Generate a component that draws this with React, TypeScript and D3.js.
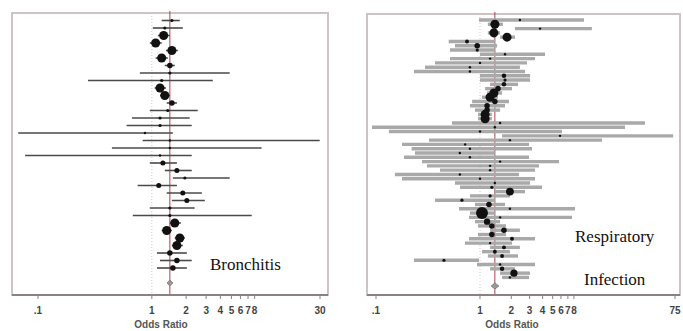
import React from 'react';
import * as d3 from 'd3';

// Bronchitis panel: odds ratio, lower CI, upper CI, relative weight
const bronEst = [1.50, 1.30, 1.27, 1.08, 1.50, 1.22, 1.44, 1.44, 1.22, 1.18, 1.30, 1.50, 1.38, 1.18, 1.18, 0.87, 1.44,
  1.44, 1.18, 1.25, 1.66, 1.95, 1.15, 1.87, 2.03, 1.44, 1.44, 1.59, 1.35, 1.76, 1.66, 1.44, 1.66, 1.53];
const bronLo = [1.22, 1.02, 1.13, 0.96, 1.33, 1.08, 1.30, 0.785, 0.275, 1.06, 1.18, 1.35, 0.96, 0.67, 0.60, 0.067, 0.83,
  0.446, 0.077, 0.96, 1.30, 1.53, 0.75, 1.35, 1.50, 0.96, 0.68, 1.44, 1.22, 1.59, 1.50, 1.11, 1.18, 1.11];
const bronHi = [1.76, 1.87, 1.44, 1.22, 1.69, 1.38, 1.59, 4.83, 3.43, 1.33, 1.44, 1.66, 2.53, 2.15, 2.24, 1.53, 29.8,
  9.2, 2.24, 1.66, 2.24, 4.83, 1.66, 2.75, 2.92, 2.38, 7.54, 1.80, 1.50, 1.95, 1.87, 2.03, 2.24, 2.03];
const bronWt = [1, 1, 8, 8, 8, 8, 3, 1, 1, 8, 8, 3, 1, 1, 1, 0.5, 0.5, 0.5, 0.5, 2.5, 2.5, 1, 2.5, 2.5, 2.5, 1, 1,
  8, 8, 8, 8, 3, 3, 3];
const bronPooled = [1.44, 1.36, 1.53];

// Respiratory infection panel
const respEst = [2.42, 1.39, 3.78, 1.36, 1.82, 0.75, 0.94, 0.94, 1.74, 1.25, 1.0, 0.80, 0.80, 1.70, 1.74, 1.70, 1.49,
  1.36, 1.25, 1.39, 1.17, 1.17, 1.12, 1.12, 1.56, 1.39, 1.0, 5.88, 1.94, 0.72, 0.80, 0.64, 0.80, 1.56, 1.25, 1.25,
  0.64, 1.0, 1.39, 1.30, 1.94, 1.25, 0.67, 1.22, 1.94, 1.045, 1.56, 1.17, 1.30, 1.70, 1.30, 2.03, 1.25, 1.70, 1.39,
  1.63, 0.45, 1.56, 1.63, 2.12, 1.94];
const respLo = [0.978, 1.19, 2.17, 1.19, 1.56, 0.50, 0.575, 0.515, 1.0, 0.515, 0.369, 0.296, 0.232, 1.0, 1.0, 1.25,
  1.12, 1.17, 1.045, 0.84, 0.80, 0.895, 0.957, 0.957, 0.538, 0.0915, 0.133, 1.63, 0.323, 0.178, 0.22, 0.237, 0.186,
  0.277, 0.309, 0.412, 0.152, 0.178, 0.575, 0.642, 1.39, 0.80, 0.369, 0.895, 0.628, 0.80, 0.784, 0.895, 0.957, 1.25,
  0.957, 0.784, 0.717, 1.25, 1.045, 1.19, 0.232, 0.936, 1.25, 1.56, 1.63];
const respHi = [10.0, 1.66, 11.9, 1.56, 2.17, 1.39, 1.46, 1.39, 4.22, 3.38, 2.83, 2.42, 2.71, 3.03, 3.03, 2.32, 2.03,
  1.63, 1.49, 1.90, 1.74, 1.56, 1.30, 1.30, 38.6, 24.8, 6.14, 72, 14.9, 2.96, 3.16, 1.39, 2.96, 5.75, 3.69, 3.38, 2.37,
  3.38, 3.03, 3.95, 2.71, 1.94, 1.39, 1.74, 8.19, 1.39, 7.67, 1.56, 1.78, 2.42, 1.78, 3.38, 2.03, 2.42, 1.94, 2.32,
  0.978, 3.38, 2.17, 3.03, 2.96];
const respWt = [0.5, 8, 0.5, 8, 8, 1.5, 3, 1, 0.5, 0.5, 0.5, 0.5, 0.5, 2, 1, 2, 3, 8, 8, 3, 3, 3, 8, 8, 0.5, 0.5, 0.5,
  0.5, 0.5, 0.5, 0.5, 0.5, 0.5, 0.5, 0.5, 0.5, 0.5, 0.5, 0.5, 1, 6, 1, 1, 3, 0.5, 14, 0.5, 4, 3, 3, 3, 1.5, 0.5, 1.5,
  1.5, 1.5, 1, 0.5, 2, 5, 0.5];
const respPooled = [1.39, 1.28, 1.52];

const bronTicks = [0.1, 1, 2, 3, 4, 5, 6, 7, 8, 30];
const respTicks = [0.1, 1, 2, 3, 4, 5, 6, 7, 8, 75];
const tickText = (v: number) => (v === 0.1 ? '.1' : String(v));

type PanelProps = {
  est: number[]; lo: number[]; hi: number[]; wt: number[]; pooled: number[];
  ticks: number[];
  frame: { x: number; y: number; w: number; h: number };
  xr: [number, number];
  yr: [number, number];
  ciColor: string; ciWidth: number;
  labelX: number;
  labels: { text: string; x: number; y: number }[];
};

function Panel(p: PanelProps) {
  const { frame } = p;
  const x = d3.scaleLog().domain([p.ticks[0], p.ticks[p.ticks.length - 1]]).range(p.xr);
  const n = p.est.length + 2;
  const y = d3.scalePoint<number>().domain(d3.range(n)).range(p.yr);
  const r = d3.scaleSqrt().domain([0, 1]).range([0, 1.6]);
  const bottom = frame.y + frame.h;
  const pooledY = y(n - 1)!;
  const px = x(p.pooled[0]);
  return (
    <g>
      <rect x={frame.x} y={frame.y} width={frame.w} height={frame.h} fill="#fff" stroke="#cdc3c3" strokeWidth={2} />
      <line x1={x(1)} x2={x(1)} y1={frame.y} y2={bottom} stroke="#c9b8b8" strokeWidth={0.8} strokeDasharray="1,2" />
      <line x1={px} x2={px} y1={frame.y - 2} y2={bottom} stroke="#b04050" strokeWidth={1} />
      {p.est.map((e, i) => (
        <line key={'c' + i} x1={x(p.lo[i])} x2={x(p.hi[i])} y1={y(i)} y2={y(i)}
          stroke={p.ciColor} strokeWidth={p.ciWidth} />
      ))}
      {p.est.map((e, i) => (
        <circle key={'m' + i} cx={x(e)} cy={y(i)} r={Math.max(1.2, r(p.wt[i]))} fill="#111" />
      ))}
      <path d={`M${x(p.pooled[1])},${pooledY} L${px},${pooledY - 3} L${x(p.pooled[2])},${pooledY} L${px},${pooledY + 3} Z`}
        fill="#999" stroke="#777" strokeWidth={0.8} />
      <line x1={frame.x} x2={frame.x + frame.w} y1={bottom} y2={bottom} stroke="#8a8282" strokeWidth={2} />
      {p.ticks.map(t => (
        <g key={'t' + t}>
          <line x1={x(t)} x2={x(t)} y1={bottom} y2={bottom + 4} stroke="#8a8282" strokeWidth={1} />
          <text x={x(t)} y={bottom + 19} textAnchor="middle" fontFamily="Liberation Sans, Arial, sans-serif"
            fontSize={10} fontWeight="bold" fill="#444">{tickText(t)}</text>
        </g>
      ))}
      <text x={p.labelX} y={bottom + 33} textAnchor="middle" fontFamily="Liberation Sans, Arial, sans-serif"
        fontSize={10} fontWeight="bold" fill="#555">Odds Ratio</text>
      {p.labels.map(l => (
        <text key={l.text} x={l.x} y={l.y} fontFamily="Liberation Serif, Times New Roman, serif" fontSize={17}
          fill="#111">{l.text}</text>
      ))}
    </g>
  );
}

export default function App() {
  return (
    <svg width={683} height={331} style={{ position: 'absolute', left: 0, top: 0, background: '#fff' }}>
      <rect width={683} height={331} fill="#fff" />
      <Panel est={bronEst} lo={bronLo} hi={bronHi} wt={bronWt} pooled={bronPooled} ticks={bronTicks}
        frame={{ x: 12, y: 13, w: 316, h: 282 }} xr={[38, 320]} yr={[20.5, 283]}
        ciColor="#4a4a4a" ciWidth={1.6} labelX={161}
        labels={[{ text: 'Bronchitis', x: 210, y: 270 }]} />
      <Panel est={respEst} lo={respLo} hi={respHi} wt={respWt} pooled={respPooled} ticks={respTicks}
        frame={{ x: 367, y: 14, w: 313, h: 281 }} xr={[376, 675]} yr={[20, 286]}
        ciColor="#a9a9a9" ciWidth={3.4} labelX={512}
        labels={[{ text: 'Respiratory', x: 575, y: 242 }, { text: 'Infection', x: 584, y: 285 }]} />
    </svg>
  );
}
